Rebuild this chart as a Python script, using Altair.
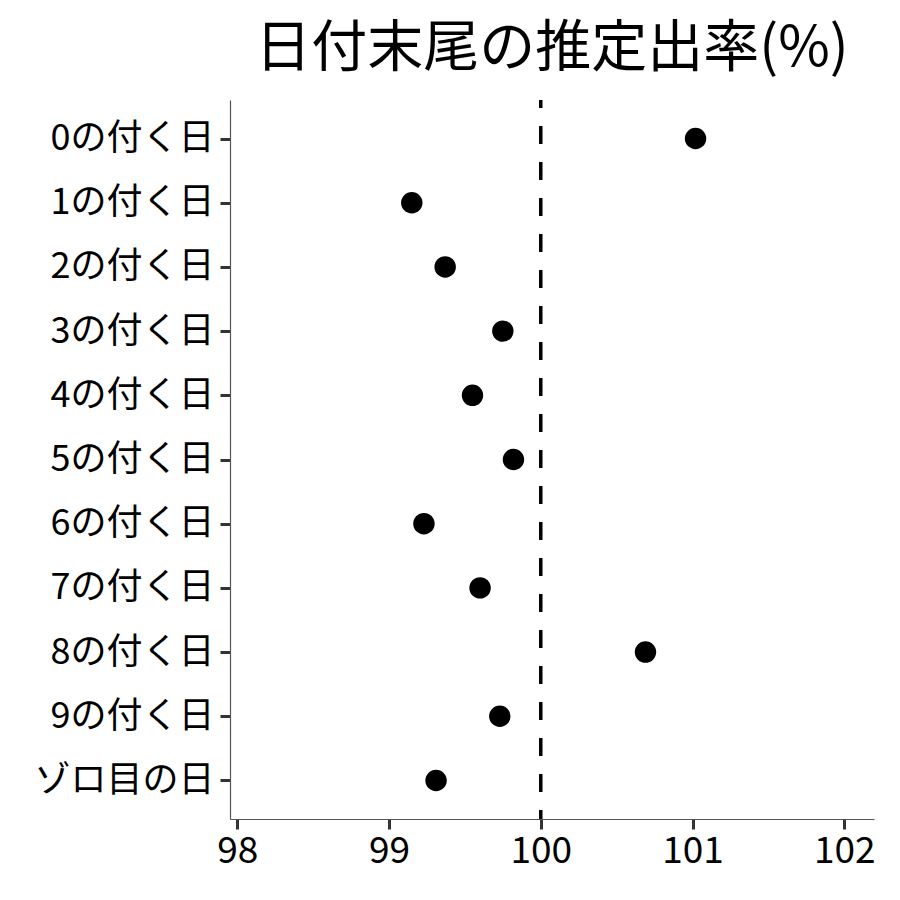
import altair as alt
import pandas as pd

categories = ["0の付く日", "1の付く日", "2の付く日", "3の付く日", "4の付く日",
              "5の付く日", "6の付く日", "7の付く日", "8の付く日", "9の付く日", "ゾロ目の日"]
rates = [101.02, 99.15, 99.37, 99.75, 99.55, 99.82, 99.23, 99.60, 100.69, 99.73, 99.31]
x_ticks = [98, 99, 100, 101, 102]
ref_value = [100]

df = pd.DataFrame({"category": categories, "rate": rates})
ref = pd.DataFrame({"rate": ref_value})

FONT = "Noto Sans CJK JP"
x_scale = alt.Scale(domain=[97.952, 102.196], nice=False, zero=False)

points = alt.Chart(df).mark_circle(size=460, opacity=1, color="black").encode(
    x=alt.X("rate:Q", scale=x_scale,
            axis=alt.Axis(values=x_ticks, title=None, grid=False, format="d",
                          domainColor="#555555", domainWidth=1.2,
                          tickColor="#333333", tickWidth=3, tickSize=10,
                          labelFontSize=37, labelColor="black", labelFont=FONT,
                          labelPadding=4)),
    y=alt.Y("category:N", sort=categories,
            scale=alt.Scale(type="point", padding=0.6),
            axis=alt.Axis(title=None, grid=False,
                          domainColor="#555555", domainWidth=1.2,
                          tickColor="#333333", tickWidth=3, tickSize=10,
                          labelFontSize=36, labelColor="black", labelFont=FONT,
                          labelPadding=6, labelLimit=400)),
)

rule = alt.Chart(ref).mark_rule(color="black", strokeWidth=3.5,
                                strokeDash=[18, 18], strokeDashOffset=10).encode(
    x=alt.X("rate:Q", scale=x_scale)
)

chart = alt.layer(rule, points).properties(
    width=644,
    height=719,
    title=alt.TitleParams("日付末尾の推定出率(%)", font=FONT, fontSize=56,
                          fontWeight="normal", color="black", anchor="middle",
                          offset=20),
    autosize=alt.AutoSizeParams(type="none"),
    padding={"left": 222, "top": 92, "right": 18, "bottom": 73},
).configure(
    font=FONT, background="white",
    view=alt.ViewConfig(stroke="transparent", strokeWidth=0),
)

chart.save("out.html", embed_options={"renderer": "svg", "actions": False})
